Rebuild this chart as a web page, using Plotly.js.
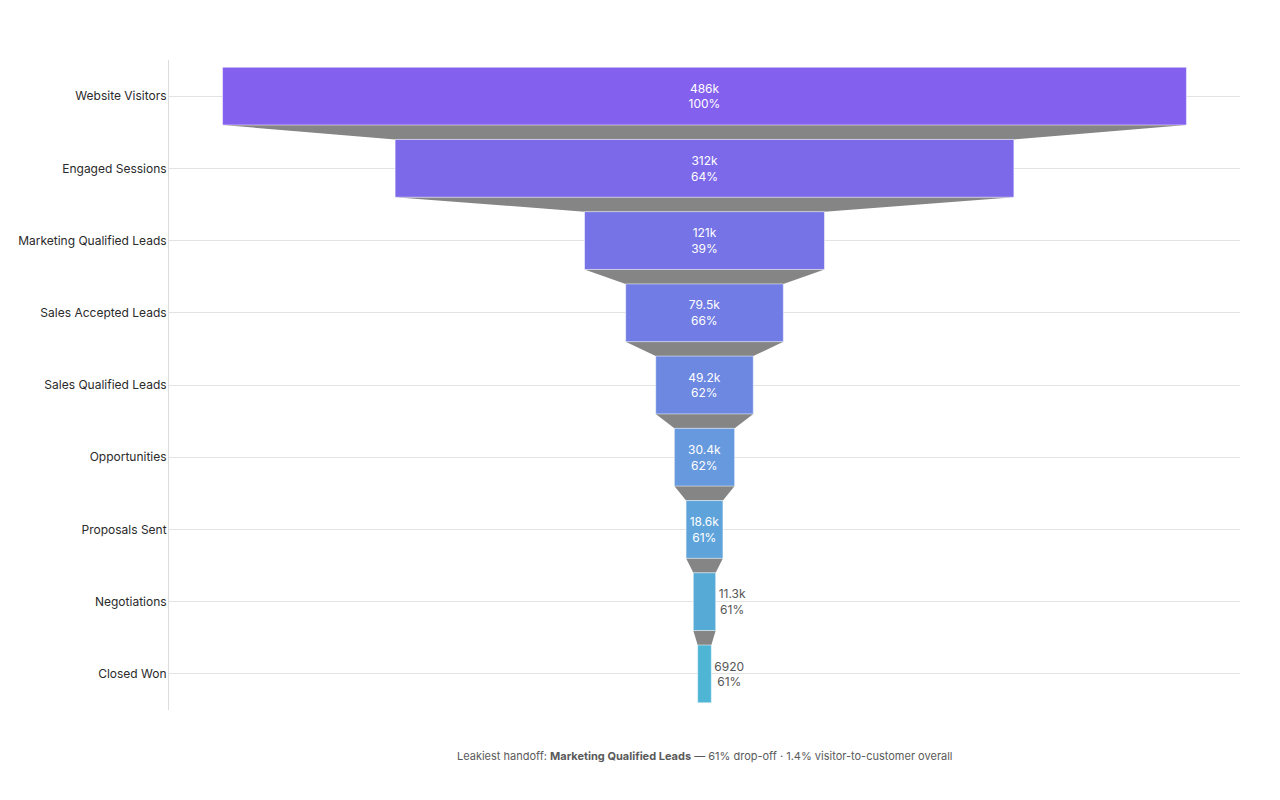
<!DOCTYPE html>
<html>
<head>
<meta charset="utf-8">
<script src="https://cdn.plot.ly/plotly-3.0.1.min.js"></script>
<style>html,body{margin:0;padding:0;background:#fff;}#chart{width:1280px;height:800px;}</style>
</head>
<body>
<div id="chart"></div>
<script>
const stages = ["Website Visitors","Engaged Sessions","Marketing Qualified Leads","Sales Accepted Leads","Sales Qualified Leads","Opportunities","Proposals Sent","Negotiations","Closed Won"];
const counts = [486000, 312000, 121000, 79500, 49200, 30400, 18600, 11300, 6920];
const stageColors = ["#8360EE","#7C69E9","#7573E5","#717DE4","#6C88E1","#6699DD","#5EA3DA","#55AAD6","#4FB5D4"];

const trace = {
  type: "funnel",
  y: stages,
  x: counts,
  textinfo: "value+percent previous",
  textposition: "auto",
  insidetextfont: {color: "#ffffff", size: 12, family: "Inter, sans-serif"},
  outsidetextfont: {color: "#555555", size: 12, family: "Inter, sans-serif"},
  marker: {color: stageColors, line: {color: "rgba(255,255,255,0.5)", width: 1}},
  connector: {fillcolor: "#858585", line: {width: 0}},
  hoverinfo: "y+x+percent previous"
};

const layout = {
  width: 1280, height: 800,
  paper_bgcolor: "#ffffff", plot_bgcolor: "#ffffff",
  font: {family: "Inter, sans-serif", size: 12, color: "#2a2a2a"},
  margin: {l: 169, r: 40, t: 60, b: 90},
  showlegend: false,
  funnelgap: 0.2,
  xaxis: {visible: false},
  yaxis: {
    showgrid: true, gridcolor: "#e3e3e3",
    showline: true, linecolor: "#dcdcdc", linewidth: 1,
    ticks: "", ticklabelstandoff: -1,
    tickfont: {size: 12, color: "#2a2a2a"}
  },
  annotations: [{
    xref: "paper", yref: "paper", x: 0.5, y: -0.07, yanchor: "middle", showarrow: false,
    text: "Leakiest handoff: <b>Marketing Qualified Leads</b> — 61% drop-off · 1.4% visitor-to-customer overall",
    font: {size: 11, color: "#5a5a5a"}
  }]
};

Plotly.newPlot("chart", [trace], layout, {displayModeBar: false, responsive: false});
</script>
</body>
</html>
